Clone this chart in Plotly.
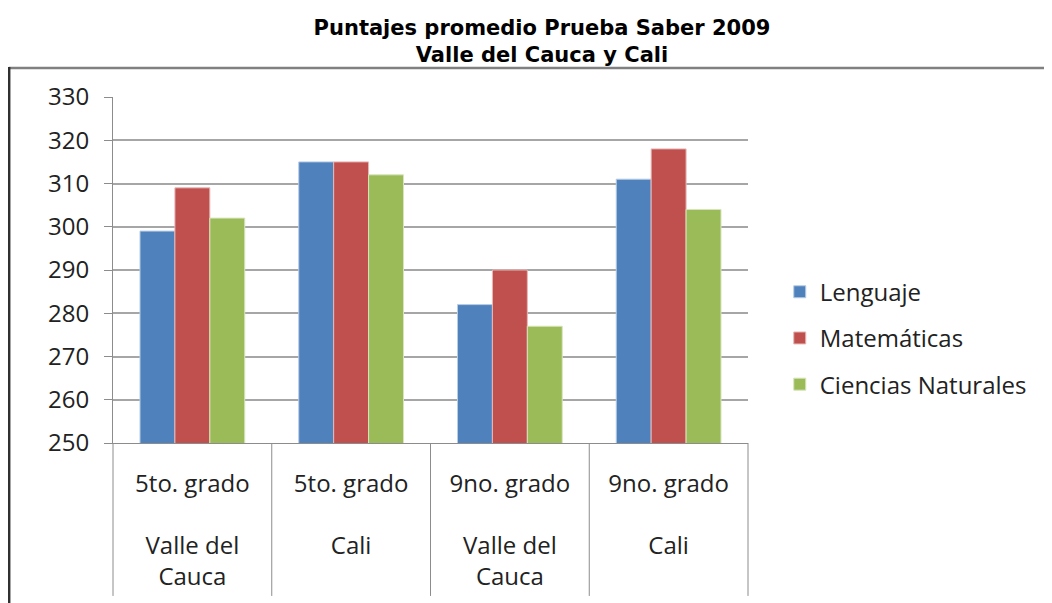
import plotly.graph_objects as go

title_line1 = "Puntajes promedio Prueba Saber 2009"
title_line2 = "Valle del Cauca y Cali"

grades = ["5to. grado", "5to. grado", "9no. grado", "9no. grado"]
regions = ["Valle del<br>Cauca", "Cali", "Valle del<br>Cauca", "Cali"]

lenguaje = [299, 315, 282, 311]
matematicas = [309, 315, 290, 318]
ciencias = [302, 312, 277, 304]

series_names = ["Lenguaje", "Matemáticas", "Ciencias Naturales"]
series_values = [lenguaje, matematicas, ciencias]
series_colors = ["#4F81BD", "#C0504D", "#9BBB59"]
edge_colors = ["#B9CDE5", "#E6B9B8", "#D7E4BD"]

y_min, y_max, y_step = 250, 330, 10

FONT = "Open Sans, Lato, sans-serif"

cat_idx = list(range(len(grades)))
tick_text = [f"{g}<br><br>{r}" for g, r in zip(grades, regions)]

fig = go.Figure()
for name, vals, col, ecol in zip(series_names, series_values, series_colors, edge_colors):
    fig.add_trace(go.Bar(
        x=cat_idx, y=vals, name=name, legendgroup=name,
        marker=dict(color=col, line=dict(color=ecol, width=1)),
    ))

shapes = []
# group separators below the axis
for k in range(len(grades) + 1):
    xd = k / len(grades)
    shapes.append(dict(type="line", xref="x domain", yref="paper",
                       x0=xd, x1=xd, y0=0, y1=-0.442,
                       line=dict(color="#8C8C8C", width=1)))
# outer frame (top and left edges)
shapes.append(dict(type="line", xref="paper", yref="paper",
                   x0=-0.164, x1=1.5, y0=1.0838, y1=1.0838,
                   line=dict(color="#808080", width=2.5)))
shapes.append(dict(type="line", xref="paper", yref="paper",
                   x0=-0.1635, x1=-0.1635, y0=1.087, y1=-0.5,
                   line=dict(color="#303030", width=2.5)))

fig.update_layout(
    width=1044, height=595,
    margin=dict(l=105, r=304, t=89, b=160),
    paper_bgcolor="white", plot_bgcolor="white",
    barmode="group", bargap=0.34, bargroupgap=0,
    title=dict(
        text=f"<b>{title_line1}<br>{title_line2}</b>",
        x=0.5115, xanchor="center", y=0.955, yanchor="middle",
        font=dict(family="DejaVu Sans, sans-serif", size=21, color="black"),
    ),
    legend=dict(
        x=1.05, xanchor="left", y=0.303, yanchor="middle",
        font=dict(family=FONT, size=24, color="#222222"),
        tracegroupgap=12, bgcolor="rgba(0,0,0,0)",
    ),
    shapes=shapes,
    showlegend=True,
)

fig.update_xaxes(
    tickmode="array", tickvals=cat_idx, ticktext=tick_text,
    range=[-0.5, len(grades) - 0.5],
    showline=True, linecolor="#8C8C8C", linewidth=1,
    ticks="", showgrid=False, zeroline=False,
    tickfont=dict(family=FONT, size=24, color="#222222"),
    ticklabelstandoff=19,
)
fig.update_yaxes(
    range=[y_min, y_max], dtick=y_step, tick0=y_min,
    showline=True, linecolor="#8C8C8C", linewidth=1,
    ticks="outside", ticklen=8, tickcolor="#8C8C8C",
    showgrid=True, gridcolor="#A6A6A6", gridwidth=1.5,
    zeroline=False,
    tickfont=dict(family=FONT, size=24, color="#222222"),
    ticklabelstandoff=10,
)

fig.write_html("out.html")
